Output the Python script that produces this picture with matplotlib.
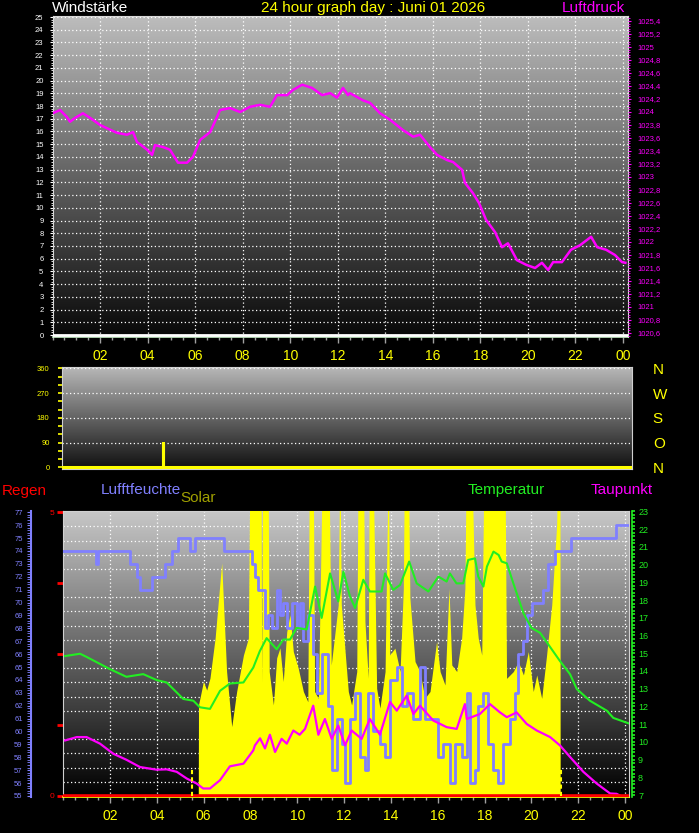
import numpy as np
import matplotlib
matplotlib.use('Agg')
import matplotlib.pyplot as plt
from matplotlib.ticker import MultipleLocator, FixedLocator, FuncFormatter

plt.rcParams['font.family'] = ['Liberation Sans', 'DejaVu Sans']

# ---- Luftdruck / Wind (oberes Diagramm) ----
press_h = [0.0, 0.32, 0.61, 0.74, 0.95, 1.28, 1.58, 2.0, 2.29, 2.71, 3.13, 3.39, 3.55, 3.98,
           4.19, 4.31, 4.65, 4.94, 5.28, 5.66, 5.91, 6.21, 6.63, 7.05, 7.47, 7.89, 8.31, 8.73,
           9.15, 9.44, 9.87, 10.12, 10.5, 10.92, 11.34, 11.68, 11.97, 12.22, 12.43, 12.51,
           13.06, 13.36, 13.78, 14.2, 14.75, 15.17, 15.46, 15.88, 16.18, 16.6, 16.85, 17.23,
           17.35, 17.69, 17.94, 18.24, 18.62, 18.91, 19.16, 19.54, 19.92, 20.3, 20.59, 20.85,
           21.06, 21.43, 21.81, 22.19, 22.66, 22.91, 23.29, 23.66, 23.96, 24.1]
press = [1023.98, 1024.03, 1023.92, 1023.85, 1023.91, 1023.98, 1023.91, 1023.80, 1023.75,
         1023.68, 1023.65, 1023.69, 1023.54, 1023.42, 1023.34, 1023.49, 1023.46, 1023.42,
         1023.22, 1023.22, 1023.31, 1023.57, 1023.69, 1024.03, 1024.06, 1024.00, 1024.08,
         1024.11, 1024.08, 1024.26, 1024.26, 1024.34, 1024.42, 1024.37, 1024.26, 1024.29,
         1024.22, 1024.37, 1024.26, 1024.29, 1024.18, 1024.14, 1023.98, 1023.88, 1023.72,
         1023.62, 1023.65, 1023.46, 1023.34, 1023.26, 1023.23, 1023.11, 1022.91, 1022.75,
         1022.60, 1022.34, 1022.15, 1021.92, 1021.98, 1021.72, 1021.65, 1021.60, 1021.68,
         1021.57, 1021.69, 1021.69, 1021.88, 1021.95, 1022.08, 1021.92, 1021.88, 1021.80,
         1021.69, 1021.68]
wind_h = [0.0, 24.2]
wind = [0, 0]

# ---- Windrichtung ----
dir_h = [0.0, 4.27, 4.30, 24.2]
wind_dir = [0, 90, 0, 0]
compass = ['N', 'O', 'S', 'W', 'N']

# ---- unteres Diagramm ----
hum_h = [0.0, 1.40, 1.47, 2.85, 3.14, 3.28, 3.78, 4.35, 4.63, 4.92, 5.42, 5.62, 6.88,
         8.05, 8.19, 8.33, 8.60, 8.76, 8.90, 9.12, 9.26, 9.40, 9.55, 9.76, 9.97,
         10.12, 10.26, 10.47, 10.68, 10.83, 11.04, 11.33, 11.47, 11.68, 11.90,
         12.04, 12.25, 12.47, 12.68, 12.89, 13.03, 13.25, 13.53, 13.75, 13.96,
         14.25, 14.46, 14.67, 14.96, 15.24, 15.45, 15.74, 16.02, 16.24, 16.52,
         16.74, 17.02, 17.24, 17.38, 17.59, 17.73, 17.95, 18.16, 18.37, 18.59,
         18.80, 19.08, 19.30, 19.44, 19.66, 19.80, 20.01, 20.51, 20.72, 21.00,
         21.70, 23.60, 24.2]
hum = [74, 73, 74, 73, 72, 71, 72, 73, 74, 75, 74, 75, 74,
       73, 72, 71, 68, 69, 68, 71, 69, 70, 68, 70, 68,
       70, 67, 69, 66, 63, 66, 62, 57, 61, 59,
       56, 61, 63, 58, 57, 63, 60, 59, 58, 64,
       65, 62, 63, 61, 65, 61, 61, 58, 59, 56,
       59, 58, 63, 56, 57, 62, 63, 59, 57, 56,
       59, 61, 63, 66, 67, 69, 70, 71, 73, 74,
       75, 76, 76]

temp_h = [0.08, 0.72, 1.0, 2.0, 2.7, 3.42, 4.0, 4.42, 5.13, 5.56,
          5.84, 6.27, 6.7, 7.12, 7.7, 8.12, 8.4, 8.69, 9.12, 9.4,
          9.69, 9.97, 10.4, 10.76, 11.04, 11.4, 11.75, 11.97, 12.25, 12.47,
          12.82, 13.1, 13.6, 13.75, 14.1, 14.39, 14.78, 15.1, 15.6, 16.03,
          16.38, 16.52, 16.8, 17.09, 17.3, 17.59, 17.73, 17.95, 18.1, 18.38,
          18.6, 18.73, 18.95, 19.23, 19.66, 20.0, 20.37, 20.72, 21.22, 21.65,
          21.94, 22.5, 23.22, 23.5, 24.14]
temp = [14.84, 14.97, 14.79, 14.1, 13.67, 13.82, 13.48, 13.35, 12.42, 12.32,
        11.95, 11.86, 12.88, 13.29, 13.35, 14.19, 15.12, 15.85, 15.22, 15.77,
        15.77, 16.43, 16.34, 18.76, 16.99, 19.5, 17.92, 19.6, 18.2, 17.55,
        19.14, 18.48, 18.48, 19.5, 18.57, 18.85, 20.17, 18.94, 18.48, 19.32,
        19.04, 19.5, 18.94, 18.94, 20.26, 20.35, 19.32, 18.76, 19.88, 20.73,
        20.54, 20.17, 20.07, 18.94, 17.26, 16.43, 16.15, 15.5, 14.56, 13.82,
        12.98, 12.32, 11.76, 11.35, 11.05]

dew_h = [0.08, 0.58, 1.0, 1.57, 2.14, 2.7, 3.28, 3.99, 4.42, 4.85,
         5.28, 5.7, 5.98, 6.27, 6.7, 7.12, 7.7, 8.12, 8.19, 8.41,
         8.62, 8.83, 9.05, 9.33, 9.55, 9.83, 10.1, 10.33, 10.68, 10.9,
         11.18, 11.47, 11.75, 12.04, 12.32, 12.75, 13.1, 13.53, 13.96, 14.25,
         14.67, 14.96, 15.24, 15.81, 16.38, 16.81, 17.16, 17.24, 17.8, 18.23,
         18.66, 18.95, 19.37, 19.8, 20.23, 20.8, 21.22, 21.65, 22.22, 22.79,
         23.36, 23.64, 24.07]
dew = [10.08, 10.27, 10.27, 9.9, 9.33, 8.99, 8.58, 8.43, 8.45, 8.31,
       7.93, 7.65, 7.37, 7.37, 7.84, 8.62, 8.77, 9.52, 9.8, 10.2,
       9.63, 10.4, 9.43, 10.17, 9.9, 10.64, 10.4, 10.73, 12.04, 10.4,
       11.29, 10.17, 10.92, 9.8, 10.64, 10.17, 11.29, 10.4, 12.25, 11.76,
       12.6, 11.57, 12.04, 11.2, 10.83, 10.73, 12.13, 11.29, 11.57, 12.13,
       11.66, 11.39, 11.66, 11.01, 10.64, 10.27, 9.8, 9.15, 8.31, 7.65,
       7.09, 7.07, 6.76]

solar_h = [5.77, 5.78, 5.99, 6.13, 6.27, 6.49, 6.77, 6.98, 7.2, 7.41, 7.7, 7.91, 7.98,
           8.45, 8.48, 8.52, 8.75, 8.8, 8.98, 9.12, 9.26, 9.4, 9.55, 9.69, 9.83, 10.04,
           10.26, 10.45, 10.52, 10.68, 10.74, 10.9, 11.08, 11.35, 11.45, 11.75, 11.82,
           11.88, 12.18, 12.32, 12.54, 12.6, 12.82, 12.89, 13.03, 13.08, 13.23, 13.39,
           13.53, 13.75, 13.89, 13.95, 14.17, 14.39, 14.53, 14.58, 14.74, 14.81, 15.03,
           15.24, 15.45, 15.67, 15.95, 16.1, 16.31, 16.48, 16.6, 16.81, 17.02, 17.16,
           17.22, 17.45, 17.59, 17.73, 17.88, 17.98, 18.87, 18.94, 19.23, 19.44, 19.66,
           19.87, 20.08, 20.23, 20.44, 20.65, 20.87, 21.08, 21.13, 21.22, 21.23]
solar = [0, 323, 405, 375, 417, 558, 821, 440, 247, 370, 498, 557, 1200,
         1200, 400, 1200, 1200, 440, 323, 488, 523, 405, 580, 639, 510, 452,
         370, 334, 1200, 1200, 370, 346, 1200, 1200, 463, 674, 1200,
         674, 370, 323, 440, 1200, 1200, 615, 417, 1200, 1200, 381,
         312, 440, 1200, 498, 522, 440, 732, 1200, 1200, 698, 475,
         440, 347, 370, 545, 440, 393, 732, 463, 440, 557, 732,
         1200, 1200, 674, 557, 498, 1200, 1200, 416, 440, 475, 428,
         510, 370, 428, 346, 498, 674, 954, 1200, 1200, 0]

rain_h = [0.0, 24.17]
rain = [0, 0]
sun_events = [5.49, 21.25]

hour_ticks = list(range(2, 25, 2))

W, H = 699, 833
fig = plt.figure(figsize=(W / 100, H / 100), dpi=100, facecolor='black')


def px_axes(x0, y0, x1, y1):
    return fig.add_axes([x0 / W, 1 - y1 / H, (x1 - x0) / W, (y1 - y0) / H])


def gradient(ax, top, bottom):
    g = np.linspace(top, bottom, 256)
    rgb = np.repeat(g[:, None, None], 3, axis=2)
    ax.imshow(rgb, extent=[0, 1, 0, 1], transform=ax.transAxes, aspect='auto',
              zorder=0, interpolation='bilinear')


def hour_axis(ax):
    ax.xaxis.set_major_locator(FixedLocator(hour_ticks))
    ax.xaxis.set_minor_locator(MultipleLocator(0.5))
    ax.xaxis.set_major_formatter(FuncFormatter(lambda v, p: f"{int(round(v)) % 24:02d}"))
    ax.tick_params(axis='x', which='major', colors='#a0a0a0', labelcolor='yellow',
                   length=4, width=1, labelsize=10, pad=5)
    ax.tick_params(axis='x', which='minor', colors='#a0a0a0', length=2.5, width=1)


dots = (0, (1, 2))

# ---------- oberes Diagramm ----------
ax1 = px_axes(52.5, 16, 628, 337)
gradient(ax1, 0.74, 0.03)
ax1.set_xlim(0, 24.21)
ax1.set_ylim(-0.157, 25.08)
ax1.yaxis.set_major_locator(MultipleLocator(1))
ax1.yaxis.set_minor_locator(MultipleLocator(0.2))
ax1.tick_params(axis='y', which='major', colors='white', length=2.5, labelsize=5.5, pad=4)
ax1.tick_params(axis='y', which='minor', colors='white', length=1.5)
hour_axis(ax1)
ax1.grid(True, which='major', color='white', ls=dots, lw=0.9)
ax1.plot(wind_h, wind, color='white', lw=2, zorder=3)
for s in ['left', 'top', 'right']:
    ax1.spines[s].set_color('#d8d8d8')
ax1.spines['bottom'].set_color('#c8f0c8')
ax1.spines['bottom'].set_linewidth(1.2)

ax1r = ax1.twinx()
ax1r.set_ylim(1020.538, 1025.477)
ax1r.yaxis.set_major_locator(FixedLocator(np.round(np.arange(1020.6, 1025.41, 0.2), 1)))
ax1r.yaxis.set_minor_locator(MultipleLocator(0.04))
ax1r.yaxis.set_major_formatter(FuncFormatter(
    lambda v, p: (f"{v:.1f}".replace('.', ',')).replace(',0', '')))
ax1r.tick_params(axis='y', which='major', colors='#ff00ff', length=2.5, labelsize=5.5, pad=4)
ax1r.tick_params(axis='y', which='minor', colors='#ff00ff', length=1.5)
for s in ax1r.spines.values():
    s.set_visible(False)
ax1r.plot(press_h, press, color='#ff00ff', lw=1.8)

fig.text(52 / W, 1 - 8 / H, 'Windstärke', color='white', fontsize=11, va='center', ha='left')
fig.text(373 / W, 1 - 8 / H, '24 hour graph day : Juni 01 2026', color='yellow',
         fontsize=11, va='center', ha='center')
fig.text(625 / W, 1 - 8 / H, 'Luftdruck', color='#ff00ff', fontsize=11, va='center', ha='right')

# ---------- Windrichtung ----------
ax2 = px_axes(62, 367, 632, 469)
gradient(ax2, 0.72, 0.06)
ax2.set_xlim(0, 24.2)
ax2.set_ylim(-6.2, 364.7)
ax2.set_xticks([])
ax2.yaxis.set_major_locator(FixedLocator([0, 90, 180, 270, 360]))
ax2.yaxis.set_minor_locator(MultipleLocator(30))
ax2.tick_params(axis='y', which='major', colors='yellow', length=3, width=1.2, labelsize=5.5, pad=6)
ax2.tick_params(axis='y', which='minor', colors='yellow', length=3, width=1.2)
ax2.yaxis.grid(True, color='white', ls=dots, lw=0.9)
ax2.plot(dir_h, wind_dir, color='yellow', lw=2.2, drawstyle='steps-post', zorder=3)
for s in ax2.spines.values():
    s.set_color('#d0d0d0')

ax2r = ax2.twinx()
ax2r.set_ylim(-6.2, 364.7)
ax2r.yaxis.set_major_locator(FixedLocator([0, 90, 180, 270, 360]))
ax2r.set_yticklabels(compass)
ax2r.tick_params(axis='y', colors='yellow', length=0, labelsize=11, pad=15)
for s in ax2r.spines.values():
    s.set_visible(False)

# ---------- unteres Diagramm ----------
ax3 = px_axes(62.5, 511, 629, 797)
gradient(ax3, 0.78, 0.0)
ax3.set_xlim(-0.03, 24.17)
ax3.set_ylim(-0.018, 5.02)
ax3.yaxis.set_major_locator(FixedLocator([0, 1.25, 2.5, 3.75, 5]))
ax3.set_yticklabels(['0', '', '', '', '5'])
ax3.yaxis.set_minor_locator(MultipleLocator(0.25))
ax3.tick_params(axis='y', which='major', colors='red', length=4, width=2, labelsize=6, pad=2)
ax3.tick_params(axis='y', which='minor', length=0)
hour_axis(ax3)
ax3.grid(True, which='major', axis='x', color='white', ls=dots, lw=0.9)
ax3.grid(True, which='minor', axis='y', color='white', ls=dots, lw=0.9)
for s in ['left', 'top', 'right']:
    ax3.spines[s].set_color('#d0d0d0')
ax3.spines['bottom'].set_color('yellow')
ax3.spines['bottom'].set_linewidth(1.2)

ax_sol = ax3.twinx()
ax_sol.set_ylim(0, 1003)
ax_sol.set_yticks([])
for s in ax_sol.spines.values():
    s.set_visible(False)
ax_sol.fill_between(solar_h, 0, solar, color='yellow', lw=0)

ax_hum = ax3.twinx()
ax_hum.yaxis.tick_left()
ax_hum.spines['left'].set_position(('axes', -31.5 / 566.5))
ax_hum.spines['left'].set_visible(True)
ax_hum.spines['left'].set_color('#8080ff')
ax_hum.spines['left'].set_linewidth(1.5)
for s in ['right', 'top', 'bottom']:
    ax_hum.spines[s].set_visible(False)
ax_hum.set_ylim(54.92, 77.1)
ax_hum.yaxis.set_major_locator(MultipleLocator(1))
ax_hum.yaxis.set_minor_locator(MultipleLocator(0.2))
ax_hum.tick_params(axis='y', which='major', colors='#8080ff', length=3, labelsize=5.5, pad=3)
ax_hum.tick_params(axis='y', which='minor', colors='#8080ff', length=3)
ax_hum.plot(hum_h, hum, color='#8080ff', lw=2, drawstyle='steps-post')

ax_t = ax3.twinx()
ax_t.spines['right'].set_position(('axes', 1.005))
ax_t.spines['right'].set_color('#22ee22')
ax_t.spines['right'].set_linewidth(1.2)
for s in ['left', 'top', 'bottom']:
    ax_t.spines[s].set_visible(False)
ax_t.set_ylim(6.89, 23.02)
ax_t.yaxis.set_major_locator(MultipleLocator(1))
ax_t.yaxis.set_minor_locator(MultipleLocator(0.2))
ax_t.tick_params(axis='y', which='major', colors='#22ee22', length=2.5, width=1.2,
                 labelsize=6.5, pad=2)
ax_t.tick_params(axis='y', which='minor', colors='#22ee22', length=2.5, width=1.2)
ax_t.plot(temp_h, temp, color='#22ee22', lw=1.5)
ax_t.plot(dew_h, dew, color='#ff00ff', lw=1.6)

ax_r = ax3.twinx()
ax_r.set_ylim(-0.018, 5.02)
ax_r.set_yticks([])
for s in ax_r.spines.values():
    s.set_visible(False)
ax_r.plot(rain_h, rain, color='red', lw=2.6)
ax_r.vlines(sun_events, 0, 0.45, colors='yellow', linestyles=(0, (2, 1.5)), lw=1.5)

fig.text(2 / W, 1 - 490.5 / H, 'Regen', color='red', fontsize=11, va='center', ha='left')
fig.text(101 / W, 1 - 490 / H, 'Lufftfeuchte', color='#8080ff', fontsize=11, va='center', ha='left')
fig.text(180 / W, 1 - 498 / H, 'Solar', color='#a0a000', fontsize=11, va='center', ha='left')
fig.text(468 / W, 1 - 490 / H, 'Temperatur', color='#22ee22', fontsize=11, va='center', ha='left')
fig.text(591 / W, 1 - 490 / H, 'Taupunkt', color='#ff00ff', fontsize=11, va='center', ha='left')

fig.savefig('out.png', dpi=100, facecolor='black')
